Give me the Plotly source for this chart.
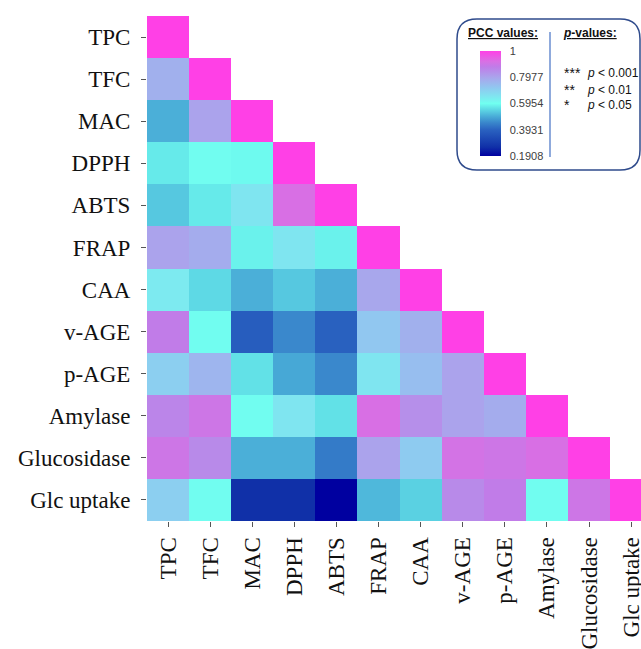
import plotly.graph_objects as go

W, H = 641, 649

labels = ["TPC", "TFC", "MAC", "DPPH", "ABTS", "FRAP", "CAA",
          "v-AGE", "p-AGE", "Amylase", "Glucosidase", "Glc uptake"]

# Lower-triangle PCC values (row variable vs. column variable)
row_TPC = [1.00]
row_TFC = [0.77, 1.00]
row_MAC = [0.50, 0.80, 1.00]
row_DPPH = [0.57, 0.60, 0.59, 1.00]
row_ABTS = [0.53, 0.57, 0.65, 0.92, 1.00]
row_FRAP = [0.80, 0.78, 0.58, 0.65, 0.58, 1.00]
row_CAA = [0.64, 0.55, 0.50, 0.53, 0.50, 0.79, 1.00]
row_vAGE = [0.88, 0.60, 0.38, 0.45, 0.39, 0.72, 0.77, 1.00]
row_pAGE = [0.70, 0.76, 0.56, 0.49, 0.45, 0.65, 0.74, 0.80, 1.00]
row_Amylase = [0.86, 0.90, 0.60, 0.65, 0.56, 0.92, 0.84, 0.80, 0.78, 1.00]
row_Glucosidase = [0.90, 0.85, 0.50, 0.50, 0.43, 0.80, 0.71, 0.91, 0.90, 0.92, 1.00]
row_GlcUptake = [0.70, 0.60, 0.26, 0.26, 0.1908, 0.51, 0.54, 0.85, 0.88, 0.60, 0.90, 1.00]

rows = [row_TPC, row_TFC, row_MAC, row_DPPH, row_ABTS, row_FRAP, row_CAA,
        row_vAGE, row_pAGE, row_Amylase, row_Glucosidase, row_GlcUptake]

cbar_vals = [0.1908, 0.3931, 0.5954, 0.7977, 1.0]
cbar_text = ["0.1908", "0.3931", "0.5954", "0.7977", "1"]

pvalue_stars = ["***", "**", "*"]
pvalue_text = ["<i>p</i> < 0.001", "<i>p</i> < 0.01", "<i>p</i> < 0.05"]

n = len(labels)
z = [r + [None] * (n - len(r)) for r in rows]

zmin, zmax = 0.1908, 1.0
colorscale = [
    [0.00, "#0000a0"],
    [0.085, "#1030a8"],
    [0.25, "#2a62c0"],
    [0.32, "#3a88cc"],
    [0.38, "#4aaed8"],
    [0.50, "#70fff0"],
    [0.57, "#80e4f0"],
    [0.65, "#90c8f0"],
    [0.75, "#aaa4ec"],
    [0.85, "#c07ce8"],
    [0.90, "#d870e4"],
    [1.00, "#ff40e6"],
]


def px(x):
    return x / W


def py(y):
    return 1 - y / H


cell = 42.1
x_left, y_top, y_bot = 147, 16, 521
x_range_max = -0.5 + (W - x_left) / cell

fig = go.Figure(go.Heatmap(
    z=z, x=labels, y=labels,
    zmin=zmin, zmax=zmax, colorscale=colorscale,
    hoverongaps=False,
    colorbar=dict(
        x=px(480), xanchor="left", xpad=0,
        y=py(103.5), yanchor="middle", ypad=0,
        thickness=21, lenmode="pixels", len=105,
        outlinewidth=0,
        tickvals=cbar_vals, ticktext=cbar_text,
        ticks="outside", ticklen=7, tickcolor="rgba(0,0,0,0)",
        tickfont=dict(family="Liberation Sans, Arial, sans-serif", size=11, color="#404040"),
    ),
))

axis_font = dict(family="Liberation Serif, Times New Roman, serif", size=23, color="#111111")

fig.update_layout(
    width=W, height=H,
    margin=dict(l=0, r=0, t=0, b=0),
    paper_bgcolor="white", plot_bgcolor="white",
    xaxis=dict(
        domain=[px(x_left), 1.0], range=[-0.5, x_range_max],
        type="category", tickangle=-90, tickfont=axis_font,
        ticks="outside", ticklen=5, tickcolor="#555555", tickwidth=1,
        showgrid=False, zeroline=False, showline=False, automargin=False,
        ticklabelstandoff=1,
    ),
    yaxis=dict(
        domain=[py(y_bot), py(y_top)], range=[n - 0.5, -0.5],
        type="category", tickfont=axis_font,
        ticks="outside", ticklen=5, tickcolor="#555555", tickwidth=1,
        showgrid=False, zeroline=False, showline=False, automargin=False,
        ticklabelstandoff=6,
    ),
)

# Legend box with rounded corners
x0, x1, y0, y1, r = 457, 640, 19, 170, 20
path = (
    f"M {px(x0 + r)},{py(y0)} L {px(x1 - r)},{py(y0)} "
    f"Q {px(x1)},{py(y0)} {px(x1)},{py(y0 + r)} "
    f"L {px(x1)},{py(y1 - r)} Q {px(x1)},{py(y1)} {px(x1 - r)},{py(y1)} "
    f"L {px(x0 + r)},{py(y1)} Q {px(x0)},{py(y1)} {px(x0)},{py(y1 - r)} "
    f"L {px(x0)},{py(y0 + r)} Q {px(x0)},{py(y0)} {px(x0 + r)},{py(y0)} Z"
)
fig.add_shape(type="path", path=path, xref="paper", yref="paper",
              line=dict(color="#2f4b8c", width=1.5), fillcolor="rgba(0,0,0,0)")
fig.add_shape(type="line", xref="paper", yref="paper",
              x0=px(550), x1=px(550), y0=py(32), y1=py(157),
              line=dict(color="#8faadc", width=2))

legend_font = dict(family="Liberation Sans, Arial, sans-serif", size=12, color="#111111")
fig.add_annotation(x=px(503), y=py(33), xref="paper", yref="paper",
                   text="<b><u>PCC values:</u></b>", showarrow=False,
                   xanchor="center", yanchor="middle", font=legend_font)
fig.add_annotation(x=px(590), y=py(33), xref="paper", yref="paper",
                   text="<b><u><i>p</i>-values:</u></b>", showarrow=False,
                   xanchor="center", yanchor="middle", font=legend_font)

star_y = [73, 90, 105]
for s, t, yy in zip(pvalue_stars, pvalue_text, star_y):
    fig.add_annotation(x=px(562), y=py(yy), xref="paper", yref="paper",
                       text=s, showarrow=False, xanchor="left", yanchor="middle",
                       font=dict(family="Liberation Sans, Arial, sans-serif", size=14, color="#111111"))
    fig.add_annotation(x=px(585), y=py(yy), xref="paper", yref="paper",
                       text=t, showarrow=False, xanchor="left", yanchor="middle",
                       font=legend_font)

fig.write_html("out.html",
               config={"displayModeBar": False},
               post_script="document.body.style.margin='0';document.body.style.overflow='hidden';")
